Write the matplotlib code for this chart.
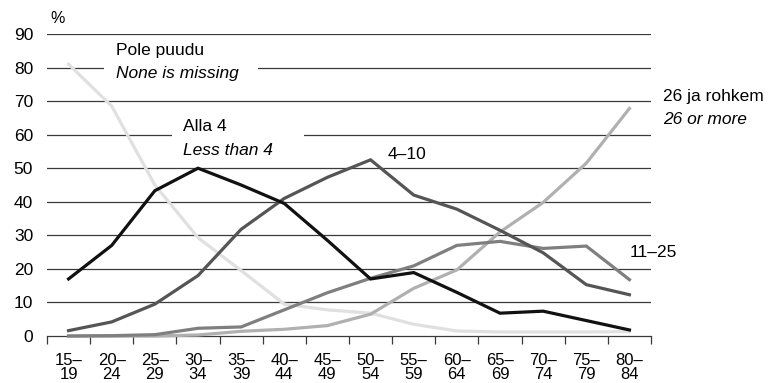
import numpy as np
import matplotlib.pyplot as plt
from matplotlib.patches import Rectangle

plt.rcParams['font.family'] = ['Liberation Sans', 'DejaVu Sans']

# ----------------------------
# Data (share of persons, %)
# ----------------------------
age_groups = ["15–\n19", "20–\n24", "25–\n29", "30–\n34", "35–\n39", "40–\n44", "45–\n49",
              "50–\n54", "55–\n59", "60–\n64", "65–\n69", "70–\n74", "75–\n79", "80–\n84"]

none_missing = [81, 68.5, 45, 29.3, 19.5, 9.5, 7.8, 6.8, 3.5, 1.5, 1.2, 1.2, 1.2, 1.3]
less_than_4 = [17, 27, 43.3, 50, 45, 39.5, 28.5, 17, 18.9, 13, 6.8, 7.4, 4.6, 1.8]
from_4_to_10 = [1.6, 4.2, 9.5, 18, 31.8, 41, 47.3, 52.5, 42, 37.8, 31.5, 24.8, 15.3, 12.3]
from_11_to_25 = [0, 0.1, 0.4, 2.3, 2.7, 7.8, 12.9, 17.2, 20.9, 27, 28.2, 26.1, 26.8, 16.8]
more_than_26 = [0, 0, 0, 0.3, 1.4, 2, 3.1, 6.5, 14.2, 19.7, 31, 39.8, 51.5, 67.8]

# ----------------------------
# Figure
# ----------------------------
fig = plt.figure(figsize=(7.68, 3.83), dpi=100)
ax = fig.add_axes([47 / 768, 1 - 336 / 383, 604 / 768, 302 / 383])

x = np.arange(len(age_groups))
fs = 12.5

for yv in range(10, 100, 10):
    ax.axhline(yv, color="#3a3a3a", linewidth=0.9, zorder=0)

# white gaps behind the inline labels
ax.add_patch(Rectangle((0.82, 74), 3.57, 12, facecolor="white", edgecolor="none", zorder=1))
ax.add_patch(Rectangle((2.40, 54), 3.06, 12, facecolor="white", edgecolor="none", zorder=1))

series = [
    (none_missing, "#e0e0e0"),
    (more_than_26, "#b0b0b0"),
    (from_11_to_25, "#7f7f7f"),
    (from_4_to_10, "#555555"),
    (less_than_4, "#111111"),
]
for vals, col in series:
    ax.plot(x, vals, color=col, linewidth=2.3, solid_joinstyle="miter", zorder=3, clip_on=False)

ax.set_xlim(-0.5, len(age_groups) - 0.5)
ax.set_ylim(0, 90)
ax.set_yticks(range(0, 100, 10))
ax.tick_params(axis="y", length=0, pad=10, labelsize=fs)

ax.set_xticks(x)
ax.set_xticklabels(age_groups, linespacing=0.88)
ax.set_xticks(np.arange(-0.5, len(age_groups)), minor=True)
ax.tick_params(axis="x", which="major", length=0, pad=12.5, labelsize=fs - 0.5)
ax.tick_params(axis="x", which="minor", length=6, width=0.9, color="#3a3a3a", direction="out")

for s in ["top", "right", "left"]:
    ax.spines[s].set_visible(False)
ax.spines["bottom"].set_color("#3a3a3a")
ax.spines["bottom"].set_linewidth(0.9)

# labels
ax.text(-0.43, 94.5, "%", fontsize=fs - 1, va="center", clip_on=False)
ax.text(1.10, 85.2, "Pole puudu", fontsize=fs, va="center", zorder=2)
ax.text(1.10, 78.2, "None is missing", fontsize=fs, style="italic", va="center", zorder=2)
ax.text(2.65, 62.3, "Alla 4", fontsize=fs, va="center", zorder=2)
ax.text(2.65, 55.4, "Less than 4", fontsize=fs, style="italic", va="center", zorder=2)
ax.text(7.40, 54.2, "4–10", fontsize=fs, va="center", zorder=2)
ax.text(13.01, 25.0, "11–25", fontsize=fs, va="center", zorder=2)
ax.text(13.78, 71.5, "26 ja rohkem", fontsize=fs, va="center", clip_on=False)
ax.text(13.78, 64.4, "26 or more", fontsize=fs, style="italic", va="center", clip_on=False)

fig.savefig("out.png", dpi=100)
